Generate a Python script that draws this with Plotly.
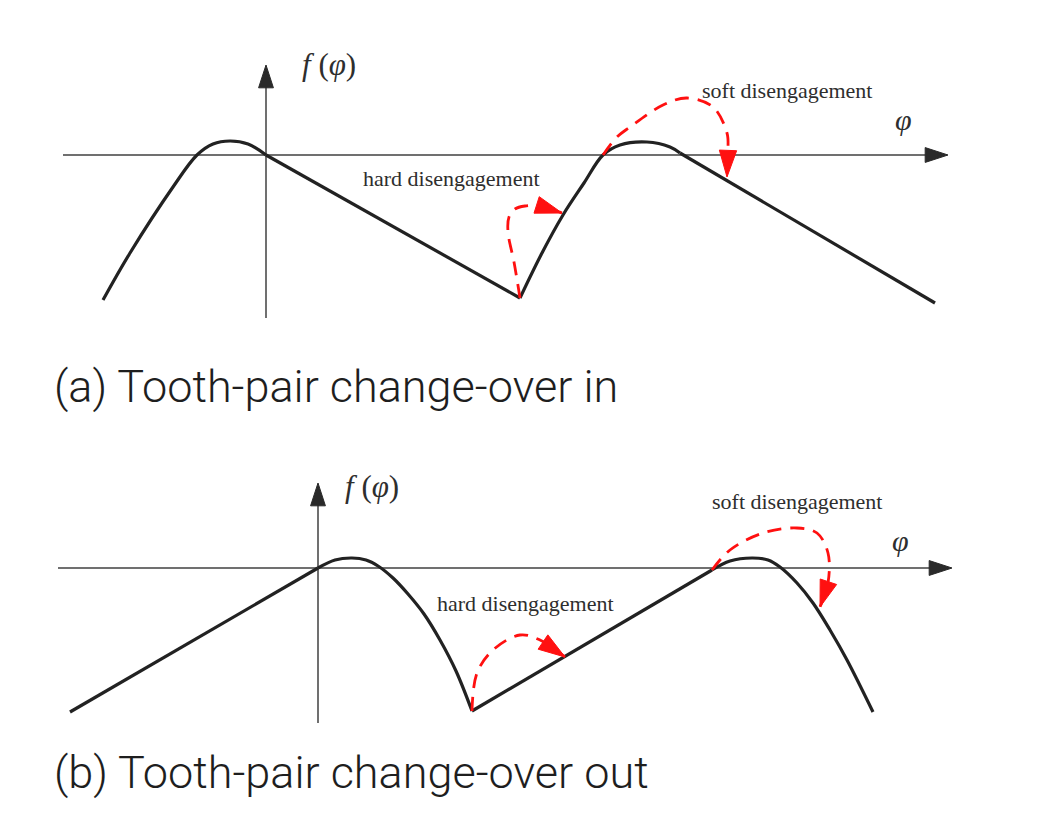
import plotly.graph_objects as go

# positions are (phi, f) in drawing units; origin at the axis crossing

# (a) tooth-pair change-over in
peak1_phi_a = [-1.63, -1.36, -0.93, -0.69, -0.53, -0.36, -0.18, 0.0]
peak1_f_a = [-1.45, -0.98, -0.32, 0.0, 0.11, 0.14, 0.11, 0.0]
slope1_phi_a = [0.0, 2.54]
slope1_f_a = [0.0, -1.43]
peak2_phi_a = [2.54, 2.76, 2.97, 3.18, 3.37, 3.54, 3.81, 4.04, 4.14]
peak2_f_a = [-1.43, -0.98, -0.60, -0.28, 0.0, 0.10, 0.13, 0.08, 0.02]
slope2_phi_a = [4.14, 6.69]
slope2_f_a = [0.02, -1.48]

hard_phi_a = [2.54, 2.48, 2.42, 2.43, 2.49, 2.59, 2.74, 2.96]
hard_f_a = [-1.43, -1.07, -0.77, -0.62, -0.54, -0.51, -0.51, -0.58]
soft_phi_a = [3.37, 3.51, 3.64, 3.97, 4.21, 4.47, 4.61, 4.62, 4.61]
soft_f_a = [0.0, 0.18, 0.28, 0.50, 0.57, 0.48, 0.22, 0.05, -0.22]

axis_phi_a = [-2.03, 6.82]
axis_f_a = [-1.63, 0.90]

# (b) tooth-pair change-over out
slope1_phi_b = [-2.48, 0.0]
slope1_f_b = [-1.44, 0.0]
peak1_phi_b = [0.0, 0.17, 0.34, 0.48, 0.60, 0.75, 0.90, 1.06, 1.22, 1.38, 1.54]
peak1_f_b = [0.0, 0.08, 0.10, 0.08, 0.02, -0.10, -0.26, -0.46, -0.72, -1.03, -1.43]
slope2_phi_b = [1.54, 3.94]
slope2_f_b = [-1.43, -0.02]
peak2_phi_b = [3.94, 4.12, 4.34, 4.50, 4.62, 4.79, 4.95, 5.12, 5.29, 5.55]
peak2_f_b = [-0.02, 0.07, 0.10, 0.08, 0.01, -0.15, -0.35, -0.62, -0.92, -1.44]

hard_phi_b = [1.54, 1.59, 1.75, 2.02, 2.22, 2.47]
hard_f_b = [-1.43, -1.05, -0.82, -0.67, -0.72, -0.89]
soft_phi_b = [3.94, 4.12, 4.45, 4.79, 4.99, 5.10, 5.10, 5.02]
soft_f_b = [-0.02, 0.18, 0.35, 0.40, 0.35, 0.15, -0.15, -0.39]

axis_phi_b = [-2.60, 6.34]
axis_f_b = [-1.55, 0.85]

captions = ['(a) Tooth-pair change-over in', '(b) Tooth-pair change-over out']

W, H = 1038, 824
PAGE_PAD = 8     # body margin of the html page
SCALE = 100      # px per drawing unit
origin_a = (266, 155)
origin_b = (318, 568)
band_a = (0, 340)
band_b = (440, 824)

CURVE = '#222222'
AXIS = '#707070'
HEAD = '#2a2a2a'
RED = '#ff1010'
TXT = '#2e2e2e'
SERIF = 'Liberation Serif, Times New Roman, serif'

fig = go.Figure()


def add_panel(xa, ya, pieces, arrows, ax_phi, ax_f):
    # coordinate axes with arrowheads
    for xs, ys in ((ax_phi, [0, 0]), ([0, 0], ax_f)):
        fig.add_trace(go.Scatter(
            x=xs, y=ys, xaxis=xa, yaxis=ya, mode='lines+markers',
            line=dict(color=AXIS, width=2),
            marker=dict(symbol='arrow', size=[0, 24], color=HEAD, opacity=1,
                        line=dict(width=1, color=HEAD), angleref='previous')))
    for xs, ys, shape in pieces:
        fig.add_trace(go.Scatter(
            x=xs, y=ys, xaxis=xa, yaxis=ya, mode='lines',
            line=dict(color=CURVE, width=3.2, shape=shape)))
    for xs, ys in arrows:
        fig.add_trace(go.Scatter(
            x=xs, y=ys, xaxis=xa, yaxis=ya, mode='lines+markers',
            line=dict(color=RED, width=2.8, dash='14px,9px', shape='spline'),
            marker=dict(symbol='arrow',
                        size=[0] * (len(xs) - 1) + [28],
                        color=RED, opacity=1, line=dict(width=1, color=RED),
                        angleref='previous')))


add_panel('x', 'y',
          [(peak1_phi_a, peak1_f_a, 'spline'), (slope1_phi_a, slope1_f_a, 'linear'),
           (peak2_phi_a, peak2_f_a, 'spline'), (slope2_phi_a, slope2_f_a, 'linear')],
          [(hard_phi_a, hard_f_a), (soft_phi_a, soft_f_a)],
          axis_phi_a, axis_f_a)
add_panel('x2', 'y2',
          [(slope1_phi_b, slope1_f_b, 'linear'), (peak1_phi_b, peak1_f_b, 'spline'),
           (slope2_phi_b, slope2_f_b, 'linear'), (peak2_phi_b, peak2_f_b, 'spline')],
          [(hard_phi_b, hard_f_b), (soft_phi_b, soft_f_b)],
          axis_phi_b, axis_f_b)


def axis_ranges(origin, band):
    ox, oy = origin[0] - PAGE_PAD, origin[1] - PAGE_PAD
    xr = [(0 - ox) / SCALE, (W - ox) / SCALE]
    yr = [(oy - band[1]) / SCALE, (oy - band[0]) / SCALE]
    dom = [1 - band[1] / H, 1 - band[0] / H]
    return xr, yr, dom


xr_a, yr_a, dom_a = axis_ranges(origin_a, band_a)
xr_b, yr_b, dom_b = axis_ranges(origin_b, band_b)

hidden = dict(visible=False, showgrid=False, zeroline=False, fixedrange=True)
fig.update_layout(
    xaxis=dict(range=xr_a, domain=[0, 1], **hidden),
    yaxis=dict(range=yr_a, domain=dom_a, **hidden),
    xaxis2=dict(range=xr_b, domain=[0, 1], anchor='y2', **hidden),
    yaxis2=dict(range=yr_b, domain=dom_b, anchor='x2', **hidden),
)

labels = [
    # text, x, y, xref, yref, size
    ('<i>f</i> (<i>φ</i>)', 0.63, 0.91, 'x', 'y', 31),
    ('<i>φ</i>', 6.37, 0.36, 'x', 'y', 30),
    ('hard disengagement', 1.85, -0.23, 'x', 'y', 22),
    ('soft disengagement', 5.21, 0.65, 'x', 'y', 22),
    ('<i>f</i> (<i>φ</i>)', 0.54, 0.82, 'x2', 'y2', 31),
    ('<i>φ</i>', 5.82, 0.28, 'x2', 'y2', 30),
    ('hard disengagement', 2.07, -0.35, 'x2', 'y2', 22),
    ('soft disengagement', 4.79, 0.67, 'x2', 'y2', 22),
]
for text, x, y, xref, yref, size in labels:
    fig.add_annotation(
        text=text, x=x, y=y, xref=xref, yref=yref, showarrow=False,
        font=dict(family=SERIF, size=size, color=TXT))

for cap, ypx in zip(captions, (386, 772)):
    fig.add_annotation(
        text=cap, x=(52 - PAGE_PAD) / W, y=1 - (ypx - PAGE_PAD) / H,
        xref='paper', yref='paper', xanchor='left', yanchor='middle',
        showarrow=False,
        font=dict(family='Roboto, Liberation Sans, sans-serif', size=45,
                  color='#1e1e1e', weight=300))

fig.update_layout(
    width=W, height=H, margin=dict(l=0, r=0, t=0, b=0),
    paper_bgcolor='white', plot_bgcolor='white', showlegend=False)

fig.write_html("out.html")
